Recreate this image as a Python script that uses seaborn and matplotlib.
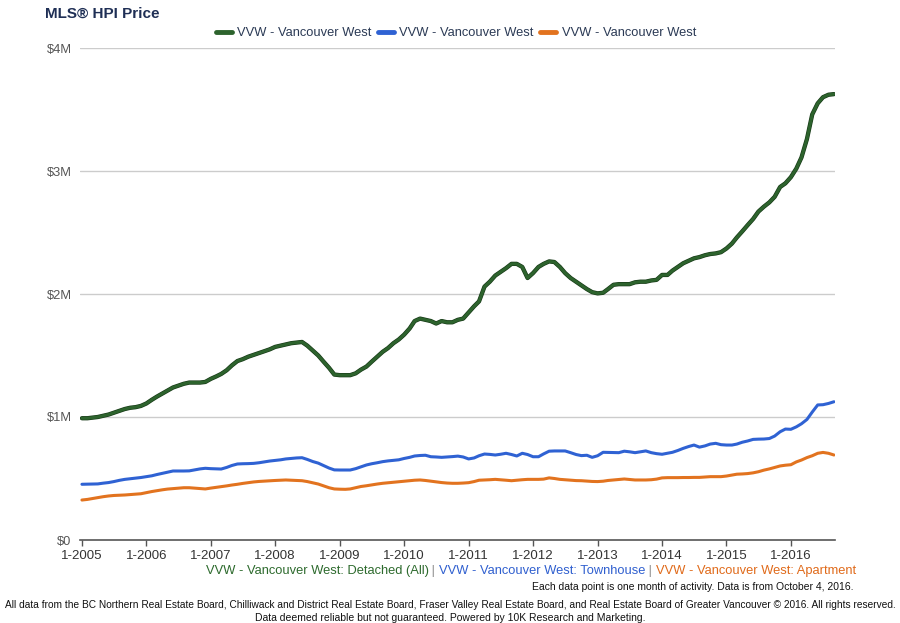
import numpy as np
import pandas as pd
import matplotlib
matplotlib.use("Agg")
import matplotlib.pyplot as plt
import matplotlib.patheffects as pe
from matplotlib.offsetbox import TextArea, HPacker, AnchoredOffsetbox
import seaborn as sns

# Monthly MLS HPI benchmark prices ($M), Jan 2005 - Sep 2016
months = pd.date_range("2005-01-01", "2016-09-01", freq="MS")

detached = [
    0.99, 0.99, 0.995, 1.00, 1.01, 1.02, 1.035, 1.05, 1.065, 1.075, 1.08, 1.09,
    1.11, 1.14, 1.165, 1.19, 1.215, 1.24, 1.255, 1.27, 1.28, 1.28, 1.28, 1.285,
    1.31, 1.33, 1.35, 1.38, 1.42, 1.455, 1.47, 1.49, 1.505, 1.52, 1.535, 1.55,
    1.57, 1.58, 1.59, 1.60, 1.605, 1.61, 1.58, 1.54, 1.50, 1.45, 1.40, 1.345,
    1.34, 1.34, 1.34, 1.355, 1.385, 1.41, 1.45, 1.49, 1.53, 1.56, 1.60, 1.63,
    1.67, 1.72, 1.78, 1.80, 1.79, 1.78, 1.76, 1.78, 1.77, 1.77, 1.79, 1.80,
    1.85, 1.90, 1.94, 2.06, 2.10, 2.15, 2.18, 2.21, 2.245, 2.245, 2.22, 2.13,
    2.17, 2.22, 2.245, 2.265, 2.26, 2.22, 2.17, 2.13, 2.10, 2.07, 2.04, 2.015,
    2.005, 2.01, 2.04, 2.075, 2.08, 2.08, 2.08, 2.095, 2.10, 2.10, 2.11, 2.115,
    2.155, 2.155, 2.19, 2.22, 2.25, 2.27, 2.29, 2.30, 2.315, 2.325, 2.33, 2.34,
    2.37, 2.41, 2.46, 2.51, 2.56, 2.61, 2.67, 2.71, 2.745, 2.79, 2.87, 2.90,
    2.95, 3.02, 3.11, 3.26, 3.46, 3.55, 3.60, 3.62, 3.625,
]

townhouse = [
    0.453, 0.454, 0.455, 0.456, 0.462, 0.467, 0.475, 0.485, 0.493, 0.498, 0.503, 0.508,
    0.515, 0.522, 0.532, 0.542, 0.552, 0.561, 0.561, 0.561, 0.562, 0.570, 0.578, 0.583,
    0.580, 0.578, 0.577, 0.590, 0.606, 0.618, 0.620, 0.621, 0.623, 0.628, 0.635, 0.642,
    0.647, 0.652, 0.659, 0.663, 0.667, 0.669, 0.655, 0.638, 0.625, 0.605, 0.585, 0.570,
    0.569, 0.569, 0.569, 0.580, 0.595, 0.610, 0.620, 0.628, 0.637, 0.643, 0.648, 0.652,
    0.663, 0.672, 0.683, 0.687, 0.689, 0.677, 0.675, 0.672, 0.675, 0.678, 0.682, 0.675,
    0.659, 0.667, 0.685, 0.699, 0.696, 0.691, 0.697, 0.705, 0.695, 0.683, 0.705, 0.695,
    0.677, 0.677, 0.700, 0.722, 0.724, 0.724, 0.724, 0.710, 0.695, 0.686, 0.689, 0.672,
    0.685, 0.713, 0.712, 0.711, 0.710, 0.722, 0.717, 0.710, 0.717, 0.724, 0.710, 0.702,
    0.697, 0.705, 0.713, 0.728, 0.745, 0.760, 0.772, 0.755, 0.765, 0.780, 0.786, 0.775,
    0.772, 0.772, 0.780, 0.795, 0.805, 0.818, 0.820, 0.821, 0.825, 0.845, 0.880, 0.902,
    0.900, 0.920, 0.945, 0.980, 1.040, 1.098, 1.100, 1.110, 1.124,
]

apartment = [
    0.325, 0.330, 0.337, 0.344, 0.352, 0.358, 0.362, 0.364, 0.366, 0.369, 0.372, 0.376,
    0.385, 0.394, 0.401, 0.408, 0.414, 0.418, 0.422, 0.425, 0.425, 0.422, 0.418, 0.415,
    0.422, 0.428, 0.434, 0.440, 0.447, 0.453, 0.460, 0.466, 0.472, 0.476, 0.479, 0.482,
    0.484, 0.486, 0.488, 0.486, 0.484, 0.482, 0.475, 0.465, 0.455, 0.440, 0.425, 0.415,
    0.413, 0.412, 0.415, 0.425, 0.435, 0.441, 0.448, 0.455, 0.461, 0.465, 0.470, 0.474,
    0.478, 0.482, 0.486, 0.488, 0.484, 0.478, 0.472, 0.467, 0.463, 0.461, 0.461, 0.463,
    0.466, 0.475, 0.486, 0.488, 0.490, 0.493, 0.490, 0.486, 0.482, 0.486, 0.490, 0.493,
    0.493, 0.493, 0.495, 0.505, 0.500, 0.493, 0.490, 0.486, 0.483, 0.482, 0.479, 0.476,
    0.475, 0.478, 0.484, 0.488, 0.492, 0.496, 0.492, 0.488, 0.488, 0.488, 0.490, 0.495,
    0.505, 0.507, 0.507, 0.507, 0.508, 0.508, 0.509, 0.509, 0.512, 0.515, 0.515, 0.515,
    0.520, 0.528, 0.535, 0.537, 0.540, 0.546, 0.555, 0.568, 0.578, 0.590, 0.602, 0.608,
    0.612, 0.635, 0.650, 0.670, 0.685, 0.705, 0.712, 0.705, 0.691,
]

series_names = ["Detached (All)", "Townhouse", "Apartment"]
line_colors = ["#2d632d", "#2f62d3", "#e2731f"]
text_colors = ["#2d6a2d", "#2f5fcf", "#e06a1a"]
legend_label = "VVW - Vancouver West"
year_ticks = pd.date_range("2005-01-01", "2016-01-01", freq="YS")
y_ticks = [0, 1e6, 2e6, 3e6, 4e6]
y_labels = ["$0", "$1M", "$2M", "$3M", "$4M"]

sns.set_theme(style="white")
plt.rcParams["font.family"] = ["Liberation Sans", "DejaVu Sans"]

fig = plt.figure(figsize=(9, 6.23), dpi=100)
ax = fig.add_axes([80 / 900, 83 / 623, 755 / 900, 492 / 623])

df = pd.DataFrame({"month": months, "Detached (All)": detached,
                   "Townhouse": townhouse, "Apartment": apartment})
for name, col in zip(series_names, line_colors):
    sns.lineplot(x=df["month"], y=df[name] * 1e6, ax=ax, color=col, lw=2.2,
                 label=legend_label)
# dark edge on the detached line
ax.lines[0].set_path_effects([pe.Stroke(linewidth=3.1, foreground="#163816"), pe.Normal()])

ax.set_ylim(0, 4e6)
ax.set_xlim(pd.Timestamp("2004-12-21"), pd.Timestamp("2016-09-07"))
ax.set_yticks(y_ticks)
ax.set_yticklabels(y_labels)
ax.set_xticks(year_ticks)
ax.set_xticklabels([f"1-{d.year}" for d in year_ticks])
ax.set_xlabel("")
ax.set_ylabel("")

for v in y_ticks[1:]:
    ax.axhline(v, color="#cccccc", lw=1, zorder=0)
for s in ["top", "right", "left"]:
    ax.spines[s].set_visible(False)
ax.spines["bottom"].set_color("#555555")
ax.spines["bottom"].set_linewidth(1.2)
ax.tick_params(axis="x", bottom=True, direction="out", length=4, width=1,
               color="#555555", labelsize=9.5, labelcolor="#333333", pad=3.5)
ax.tick_params(axis="y", left=False, length=0, labelsize=9.3, labelcolor="#555555", pad=6)

leg = ax.legend(loc="center", bbox_to_anchor=(456 / 900, 1 - 33 / 623),
                bbox_transform=fig.transFigure, ncol=3, frameon=False,
                handlelength=1.2, handletextpad=0.45, columnspacing=0.5,
                fontsize=9.3)
for h in leg.get_lines():
    h.set_linewidth(3.5)
    h.set_path_effects([])
for t in leg.get_texts():
    t.set_color("#2b3a55")

fig.text(45 / 900, 1 - 14 / 623, "MLS® HPI Price", fontsize=11, fontweight="bold",
         color="#1f2f55", va="center", ha="left")

# coloured series key under the x axis
parts = []
for i, (name, col) in enumerate(zip(series_names, text_colors)):
    if i > 0:
        parts.append(TextArea(" | ", textprops=dict(color="#888888", fontsize=9.3)))
    parts.append(TextArea(f"VVW - Vancouver West: {name}",
                          textprops=dict(color=col, fontsize=9.3)))
box = HPacker(children=parts, align="baseline", pad=0, sep=0)
anch = AnchoredOffsetbox(loc="center right", child=box, frameon=False, pad=0,
                         borderpad=0, bbox_to_anchor=(856 / 900, 1 - 571 / 623),
                         bbox_transform=fig.transFigure)
fig.add_artist(anch)

fig.text(853 / 900, 1 - 587 / 623,
         "Each data point is one month of activity. Data is from October 4, 2016.",
         fontsize=7.5, ha="right", va="center", color="#111111")
fig.text(450 / 900, 1 - 605 / 623,
         "All data from the BC Northern Real Estate Board, Chilliwack and District Real Estate Board, "
         "Fraser Valley Real Estate Board, and Real Estate Board of Greater Vancouver © 2016. "
         "All rights reserved.",
         fontsize=7.25, ha="center", va="center", color="#111111")
fig.text(450 / 900, 1 - 618 / 623,
         "Data deemed reliable but not guaranteed. Powered by 10K Research and Marketing.",
         fontsize=7.5, ha="center", va="center", color="#111111")

fig.savefig("out.png", dpi=100)
